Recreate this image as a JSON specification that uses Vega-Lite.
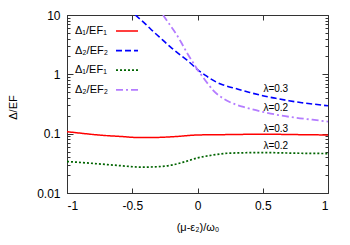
{
  "$schema": "https://vega.github.io/schema/vega-lite/v6.json",
  "width": 261,
  "height": 178,
  "autosize": {"type": "none"},
  "padding": {"left": 67, "top": 15, "right": 22, "bottom": 52},
  "config": {
    "font": "Liberation Sans",
    "view": {"stroke": "#333", "strokeWidth": 1},
    "axis": {"domainColor": "#333", "tickColor": "#333", "labelColor": "#000", "titleColor": "#000", "grid": false, "labelFont": "Liberation Sans", "titleFont": "Liberation Sans", "titleFontWeight": "normal"}
  },
  "datasets": {
    "curves": [
      {"x": -1.0, "y": 0.108, "s": "a"},
      {"x": -0.88, "y": 0.101, "s": "a"},
      {"x": -0.76, "y": 0.095, "s": "a"},
      {"x": -0.6, "y": 0.09, "s": "a"},
      {"x": -0.43, "y": 0.0858, "s": "a"},
      {"x": -0.3, "y": 0.0865, "s": "a"},
      {"x": -0.15, "y": 0.09, "s": "a"},
      {"x": 0.0, "y": 0.095, "s": "a"},
      {"x": 0.24, "y": 0.0965, "s": "a"},
      {"x": 0.5, "y": 0.098, "s": "a"},
      {"x": 0.75, "y": 0.0965, "s": "a"},
      {"x": 1.0, "y": 0.095, "s": "a"},

      {"x": -0.477, "y": 10, "s": "b"},
      {"x": -0.4, "y": 7.1, "s": "b"},
      {"x": -0.336, "y": 5.2, "s": "b"},
      {"x": -0.27, "y": 3.85, "s": "b"},
      {"x": -0.208, "y": 2.9, "s": "b"},
      {"x": -0.14, "y": 2.19, "s": "b"},
      {"x": -0.08, "y": 1.73, "s": "b"},
      {"x": -0.04, "y": 1.45, "s": "b"},
      {"x": 0.0, "y": 1.2, "s": "b"},
      {"x": 0.05, "y": 1.0, "s": "b"},
      {"x": 0.1, "y": 0.84, "s": "b"},
      {"x": 0.15, "y": 0.73, "s": "b"},
      {"x": 0.2, "y": 0.66, "s": "b"},
      {"x": 0.3, "y": 0.57, "s": "b"},
      {"x": 0.4, "y": 0.495, "s": "b"},
      {"x": 0.5, "y": 0.436, "s": "b"},
      {"x": 0.6, "y": 0.394, "s": "b"},
      {"x": 0.7, "y": 0.359, "s": "b"},
      {"x": 0.8, "y": 0.333, "s": "b"},
      {"x": 0.9, "y": 0.313, "s": "b"},
      {"x": 1.0, "y": 0.295, "s": "b"},

      {"x": -1.0, "y": 0.0339, "s": "c"},
      {"x": -0.88, "y": 0.0325, "s": "c"},
      {"x": -0.76, "y": 0.031, "s": "c"},
      {"x": -0.6, "y": 0.029, "s": "c"},
      {"x": -0.43, "y": 0.0273, "s": "c"},
      {"x": -0.3, "y": 0.0278, "s": "c"},
      {"x": -0.2, "y": 0.0295, "s": "c"},
      {"x": -0.1, "y": 0.0335, "s": "c"},
      {"x": 0.0, "y": 0.039, "s": "c"},
      {"x": 0.11, "y": 0.0434, "s": "c"},
      {"x": 0.24, "y": 0.0469, "s": "c"},
      {"x": 0.5, "y": 0.048, "s": "c"},
      {"x": 0.75, "y": 0.0469, "s": "c"},
      {"x": 1.0, "y": 0.0462, "s": "c"},

      {"x": -0.264, "y": 10, "s": "d"},
      {"x": -0.22, "y": 7.24, "s": "d"},
      {"x": -0.157, "y": 4.55, "s": "d"},
      {"x": -0.12, "y": 3.31, "s": "d"},
      {"x": -0.08, "y": 2.29, "s": "d"},
      {"x": -0.04, "y": 1.66, "s": "d"},
      {"x": 0.0, "y": 1.2, "s": "d"},
      {"x": 0.04, "y": 0.91, "s": "d"},
      {"x": 0.08, "y": 0.69, "s": "d"},
      {"x": 0.12, "y": 0.537, "s": "d"},
      {"x": 0.16, "y": 0.447, "s": "d"},
      {"x": 0.2, "y": 0.389, "s": "d"},
      {"x": 0.25, "y": 0.339, "s": "d"},
      {"x": 0.3, "y": 0.305, "s": "d"},
      {"x": 0.37, "y": 0.275, "s": "d"},
      {"x": 0.5, "y": 0.233, "s": "d"},
      {"x": 0.62, "y": 0.206, "s": "d"},
      {"x": 0.75, "y": 0.186, "s": "d"},
      {"x": 0.88, "y": 0.172, "s": "d"},
      {"x": 1.0, "y": 0.16, "s": "d"}
    ],
    "notes": [
      {"x": 0.6, "y": 0.557, "t": "λ=0.3"},
      {"x": 0.6, "y": 0.274, "t": "λ=0.2"},
      {"x": 0.6, "y": 0.1187, "t": "λ=0.3"},
      {"x": 0.6, "y": 0.0622, "t": "λ=0.2"}
    ]
  },
  "layer": [
    {
      "mark": {"type": "rule", "color": "#444", "strokeWidth": 1},
      "encoding": {
        "x": {"datum": 0, "type": "quantitative", "scale": {"domain": [-1, 1]}, "axis": null}
      }
    },
    {
      "data": {"name": "curves"},
      "mark": {"type": "line", "clip": true, "interpolate": "monotone"},
      "encoding": {
        "x": {
          "field": "x", "type": "quantitative",
          "scale": {"domain": [-1, 1], "nice": false},
          "axis": {"orient": "bottom", "values": [-1, -0.5, 0, 0.5, 1], "labelExpr": "toString(datum.value)", "tickSize": -5, "labelPadding": 12, "labelFontSize": 12, "title": "(μ-ε₂)/ω₀", "titleFontSize": 11, "titlePadding": 10}
        },
        "y": {
          "field": "y", "type": "quantitative",
          "scale": {"type": "log", "domain": [0.01, 10], "nice": false},
          "axis": {
            "orient": "left",
            "values": [0.01, 0.02, 0.03, 0.04, 0.05, 0.06, 0.07, 0.08, 0.09, 0.1, 0.2, 0.3, 0.4, 0.5, 0.6, 0.7, 0.8, 0.9, 1, 2, 3, 4, 5, 6, 7, 8, 9, 10],
            "labelExpr": "(datum.value == 0.01 || datum.value == 0.1 || datum.value == 1 || datum.value == 10) ? toString(datum.value) : ''",
            "tickSize": {"condition": {"test": "datum.value == 0.01 || datum.value == 0.1 || datum.value == 1 || datum.value == 10", "value": -6}, "value": -3},
            "labelPadding": 13, "labelFontSize": 12, "title": "Δ/EF", "titleFontSize": 11,
            "titleX": -54, "titleY": 92, "titleBaseline": "middle", "titleAlign": "center", "titleAngle": -90
          }
        },
        "color": {
          "field": "s", "type": "nominal",
          "scale": {"domain": ["a", "b", "c", "d"], "range": ["#ff0000", "#0000ff", "#006400", "#b47cff"]},
          "legend": {
            "title": null, "orient": "none", "legendX": 8, "legendY": 4,
            "labelExpr": "(datum.label == 'a' || datum.label == 'c') ? 'Δ₁/EF₁' : 'Δ₂/EF₂'",
            "labelFontSize": 11, "labelFont": "Liberation Sans", "labelColor": "#000",
            "symbolType": "stroke", "symbolSize": 484, "labelOffset": -64, "symbolOffset": 40, "rowPadding": 2.6
          }
        },
        "strokeDash": {
          "field": "s", "type": "nominal",
          "scale": {"domain": ["a", "b", "c", "d"], "range": [[1, 0], [6, 3], [2, 2], [7, 3, 2, 3]]},
          "legend": {"title": null}
        },
        "strokeWidth": {
          "field": "s", "type": "nominal",
          "scale": {"domain": ["a", "b", "c", "d"], "range": [1.5, 1.8, 2.5, 1.5]},
          "legend": {"title": null}
        }
      }
    },
    {
      "data": {"name": "notes"},
      "mark": {"type": "text", "fontSize": 10, "font": "Liberation Sans", "color": "#000"},
      "encoding": {
        "x": {"field": "x", "type": "quantitative",
          "axis": {"orient": "top", "values": [-1, -0.5, 0, 0.5, 1], "labels": false, "tickSize": -5, "title": null, "domain": false}},
        "y": {"field": "y", "type": "quantitative",
          "axis": {"orient": "right", "values": [0.01, 0.02, 0.03, 0.04, 0.05, 0.06, 0.07, 0.08, 0.09, 0.1, 0.2, 0.3, 0.4, 0.5, 0.6, 0.7, 0.8, 0.9, 1, 2, 3, 4, 5, 6, 7, 8, 9, 10], "labels": false, "title": null, "domain": false,
            "tickSize": {"condition": {"test": "datum.value == 0.01 || datum.value == 0.1 || datum.value == 1 || datum.value == 10", "value": -6}, "value": -3}}},
        "text": {"field": "t"}
      }
    }
  ],
  "resolve": {"axis": {"x": "independent", "y": "independent"}}
}
